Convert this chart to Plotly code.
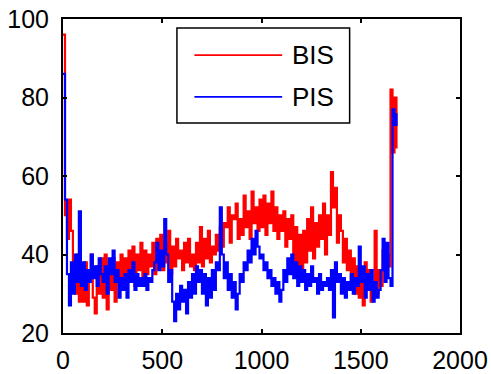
import plotly.graph_objects as go

step = 10
bis = [
    96, 50, 44, 54, 46, 35, 30, 40, 28, 36,
    28, 38, 27, 34, 40, 29, 25, 37, 30, 39,
    29, 40, 26, 36, 31, 39, 28, 38, 33, 40,
    31, 39, 33, 41, 35, 42, 32, 40, 36, 43,
    34, 41, 35, 40, 37, 43, 35, 44, 38, 45,
    36, 43, 38, 46, 35, 42, 37, 44, 39, 41,
    36, 43, 38, 44, 37, 40, 36, 43, 38, 47,
    37, 44, 39, 46, 38, 42, 40, 45, 41, 47,
    42, 48, 47, 52, 43, 50, 49, 53, 44, 49,
    45, 55, 47, 51, 44, 56, 48, 52, 46, 54,
    47, 55, 45, 53, 48, 56, 46, 52, 44, 50,
    46, 51, 42, 49, 44, 50, 38, 47, 35, 45,
    34, 46, 38, 49, 41, 52, 39, 48, 42, 50,
    44, 53, 40, 50, 45, 61, 52, 57, 43, 50,
    46, 38, 44, 36, 41, 33, 39, 30, 37, 29,
    35, 27, 38, 31, 36, 28, 33, 46, 30, 36,
    32, 41, 36, 40, 37, 82, 66, 80, 67,
]
pis = [
    86, 54, 35, 27, 38, 30, 40, 33, 51, 32,
    38, 31, 36, 33, 40, 34, 37, 32, 39, 35,
    33, 37, 30, 39, 35, 41, 33, 36, 29, 34,
    31, 35, 29, 36, 33, 38, 31, 35, 32, 34,
    32, 35, 31, 34, 33, 36, 38, 43, 36, 41,
    37, 49, 40, 33, 36, 28, 23, 30, 26, 32,
    28, 31, 25, 33, 29, 35, 30, 37, 33, 36,
    30, 35, 27, 34, 29, 36, 31, 38, 36, 52,
    40, 34, 38, 31, 35, 29, 33, 26, 30, 35,
    33, 38, 36, 41, 38, 44, 40, 46, 42, 39,
    40, 36, 38, 34, 36, 32, 34, 30, 33, 28,
    31, 36, 33, 39, 35, 40, 34, 38, 32, 37,
    33, 36, 31, 35, 32, 37, 33, 34, 30, 35,
    31, 33, 32, 34, 31, 36, 24, 38, 33, 35,
    30, 34, 29, 33, 31, 35, 30, 34, 32, 42,
    33, 37, 29, 35, 31, 36, 28, 33, 29, 31,
    36, 44, 33, 43, 34, 32, 77, 73, 76,
]
x_bis = [i * step for i in range(len(bis))]
x_pis = [i * step for i in range(len(pis))]

x_ticks = [0, 500, 1000, 1500, 2000]
y_ticks = [20, 40, 60, 80, 100]
names = ["BIS", "PIS"]
colors = ["#FF0000", "#0000FF"]

fig = go.Figure()
fig.add_trace(go.Scatter(x=x_bis, y=bis, mode="lines", name=names[0],
                         line=dict(color=colors[0], width=2.2, shape="hv")))
fig.add_trace(go.Scatter(x=x_pis, y=pis, mode="lines", name=names[1],
                         line=dict(color=colors[1], width=2.2, shape="hv")))

font = dict(family="Liberation Sans, Arial, sans-serif", size=25, color="black")
axis_common = dict(showgrid=False, zeroline=False, showline=True, linecolor="black",
                   linewidth=2, ticks="inside", ticklen=4, tickwidth=1.5,
                   tickcolor="black", mirror="ticks", tickfont=font, automargin=False)
fig.update_xaxes(range=[0, 2000], tickvals=x_ticks, ticktext=[str(v) for v in x_ticks],
                 ticklabelstandoff=4, **axis_common)
fig.update_yaxes(range=[20, 100], tickvals=y_ticks, ticktext=[str(v) for v in y_ticks],
                 ticklabelstandoff=7, **axis_common)

# custom legend (MATLAB style with long line samples)
shapes = [dict(type="rect", xref="paper", yref="paper", x0=0.287, x1=0.722,
               y0=0.669, y1=0.971, line=dict(color="black", width=1.5),
               fillcolor="white", layer="above")]
for yy, c in zip([0.885, 0.752], colors):
    shapes.append(dict(type="line", xref="paper", yref="paper", x0=0.331, x1=0.552,
                       y0=yy, y1=yy, line=dict(color=c, width=1.8), layer="above"))
annotations = [dict(text=n, xref="paper", yref="paper", x=0.572, y=yy, xanchor="left",
                    yanchor="middle", showarrow=False,
                    font=dict(family="Liberation Sans, Arial, sans-serif", size=26, color="black"))
               for n, yy in zip(names, [0.885, 0.752])]

fig.update_layout(width=491, height=374, margin=dict(l=63, r=31, t=19, b=41),
                  plot_bgcolor="white", paper_bgcolor="white", showlegend=False,
                  shapes=shapes, annotations=annotations)

fig.write_html("out.html", config={"displayModeBar": False},
               post_script="document.body.style.margin='0';document.body.style.overflow='hidden';")
